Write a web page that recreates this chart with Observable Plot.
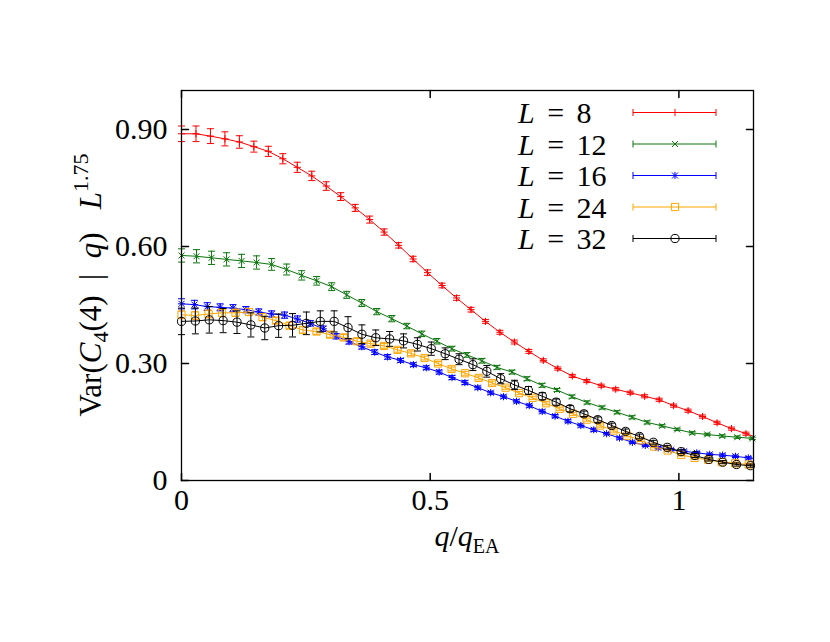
<!DOCTYPE html>
<html><head><meta charset="utf-8">
<script src="https://cdn.jsdelivr.net/npm/d3@7"></script>
<script src="https://cdn.jsdelivr.net/npm/@observablehq/plot@0.6"></script>
<style>
body{margin:0;background:#fff;}
#chart{position:relative;width:830px;height:642px;}
</style></head><body><div id="chart"></div>
<script>
// ---- data ----
const sizes = ["8", "12", "16", "24", "32"];
const colors = ["#ff0000", "#0b750b", "#0000ff", "#ffa500", "#000000"];
const qStep = [0.0291, 0.0302, 0.0259, 0.02715, 0.0279]; // spacing of q/qEA grid per L

const var8 = [0.889,0.889,0.883,0.876,0.868,0.856,0.844,0.825,0.803,0.781,
  0.755,0.728,0.699,0.669,0.637,0.603,0.568,0.533,0.500,0.468,
  0.438,0.408,0.380,0.355,0.331,0.308,0.287,0.268,0.255,0.243,
  0.234,0.225,0.216,0.207,0.192,0.179,0.164,0.148,0.133,0.120,0.107];
const err8 = [0.020,0.020,0.019,0.018,0.016,0.014,0.013,0.013,0.013,0.012,
  0.011,0.010,0.009,0.009,0.008,0.007,0.007,0.007,0.006,0.006,
  0.006,0.005,0.005,0.005,0.005,0.004,0.004,0.004,0.004,0.004,
  0.004,0.004,0.004,0.004,0.004,0.004,0.004,0.004,0.004,0.004,0.004];

const var12 = [0.577,0.575,0.571,0.567,0.563,0.559,0.554,0.541,0.526,0.512,
  0.497,0.476,0.455,0.433,0.415,0.396,0.376,0.357,0.338,0.322,
  0.307,0.290,0.278,0.261,0.244,0.232,0.215,0.200,0.187,0.175,
  0.162,0.149,0.140,0.131,0.122,0.118,0.114,0.111,0.108];
const err12 = [0.017,0.017,0.017,0.017,0.017,0.017,0.015,0.014,0.012,0.011,
  0.010,0.009,0.009,0.008,0.008,0.007,0.007,0.007,0.006,0.006,
  0.006,0.005,0.005,0.005,0.005,0.004,0.004,0.004,0.004,0.004,
  0.004,0.004,0.003,0.003,0.003,0.003,0.003,0.003,0.003];

const var16 = [0.453,0.451,0.446,0.444,0.442,0.438,0.432,0.427,0.424,0.414,
  0.403,0.389,0.370,0.356,0.343,0.329,0.317,0.308,0.297,0.289,
  0.278,0.264,0.251,0.238,0.225,0.215,0.203,0.192,0.177,0.165,
  0.152,0.141,0.130,0.120,0.109,0.098,0.090,0.084,0.079,0.075,
  0.071,0.067,0.065,0.062,0.058,0.055];
const err16 = [0.013,0.011,0.010,0.009,0.009,0.008,0.008,0.008,0.008,0.008,
  0.007,0.007,0.007,0.006,0.006,0.006,0.006,0.005,0.005,0.005,
  0.005,0.005,0.005,0.004,0.004,0.004,0.004,0.004,0.004,0.004,
  0.004,0.004,0.004,0.003,0.003,0.003,0.003,0.003,0.003,0.003,
  0.003,0.003,0.003,0.003,0.003,0.003];

const var24 = [0.425,0.423,0.427,0.430,0.430,0.432,0.419,0.410,0.397,0.386,
  0.382,0.374,0.367,0.357,0.351,0.345,0.335,0.326,0.314,0.300,
  0.286,0.275,0.263,0.250,0.238,0.224,0.212,0.198,0.184,0.171,
  0.156,0.141,0.128,0.115,0.103,0.087,0.077,0.066,0.058,0.053,
  0.047,0.044,0.041,0.039];
const err24 = [0.010,0.010,0.010,0.010,0.009,0.009,0.009,0.008,0.008,0.008,
  0.007,0.007,0.007,0.007,0.006,0.006,0.006,0.006,0.005,0.005,
  0.005,0.005,0.005,0.005,0.004,0.004,0.004,0.004,0.004,0.004,
  0.004,0.004,0.004,0.003,0.003,0.003,0.003,0.003,0.003,0.003,
  0.003,0.003,0.003,0.003];

const var32 = [0.408,0.409,0.412,0.410,0.406,0.399,0.391,0.397,0.398,0.403,
  0.408,0.408,0.392,0.375,0.366,0.363,0.358,0.349,0.338,0.325,
  0.311,0.297,0.280,0.261,0.245,0.231,0.216,0.201,0.184,0.171,
  0.156,0.141,0.126,0.113,0.098,0.085,0.074,0.064,0.054,0.047,
  0.041,0.038,0.036];
const err32 = [0.034,0.033,0.034,0.031,0.029,0.031,0.030,0.030,0.030,0.029,
  0.027,0.027,0.028,0.024,0.020,0.019,0.018,0.017,0.017,0.015,
  0.014,0.015,0.015,0.013,0.012,0.010,0.009,0.008,0.008,0.007,
  0.007,0.006,0.006,0.006,0.005,0.005,0.005,0.005,0.004,0.004,
  0.004,0.004,0.004];

const xTicks = [0, 0.5, 1];
const xTickLabels = ["0", "0.5", "1"];
const yTicks = [0, 0.3, 0.6, 0.9];
const yTickLabels = ["0", "0.30", "0.60", "0.90"];
const xMax = 1.15;

// ---- symbols (gnuplot point types) ----
const symPlus = {draw(c){c.moveTo(-3.6,0);c.lineTo(3.6,0);c.moveTo(0,-3.6);c.lineTo(0,3.6);}};
const symTimes = {draw(c){c.moveTo(-3,-3);c.lineTo(3,3);c.moveTo(-3,3);c.lineTo(3,-3);}};
const symStar = {draw(c){symPlus.draw(c);symTimes.draw(c);}};
const symSquare = {draw(c){c.rect(-3.6,-3.6,7.2,7.2);}};
const symCircle = {draw(c){c.moveTo(4.1,0);c.arc(0,0,4.1,0,2*Math.PI);}};
const symCap = {draw(c){c.moveTo(-3.5,0);c.lineTo(3.5,0);}};
const symbols = [symPlus, symTimes, symStar, symSquare, symCircle];

const values = [var8, var12, var16, var24, var32];
const errors = [err8, err12, err16, err24, err32];

const series = sizes.map((L, k) => values[k].map((v, i) => ({
  L, q: i * qStep[k], v, lo: v - errors[k][i], hi: v + errors[k][i]
})));

const tickShape = {draw(c, l){c.moveTo(0,0);c.lineTo(0,-l);}};

const marks = [];
series.forEach((rows, k) => {
  const col = colors[k];
  const inside = rows.filter(d => d.q <= xMax);
  marks.push(
    Plot.line(rows, {x: "q", y: "v", stroke: col, strokeWidth: 1, clip: true}),
    Plot.ruleX(inside, {x: "q", y1: "lo", y2: "hi", stroke: col, strokeWidth: 1}),
    Plot.dot(inside, {x: "q", y: "lo", symbol: symCap, fill: "none", stroke: col, strokeWidth: 1}),
    Plot.dot(inside, {x: "q", y: "hi", symbol: symCap, fill: "none", stroke: col, strokeWidth: 1}),
    Plot.dot(inside, {x: "q", y: "v", symbol: symbols[k], fill: "none", stroke: col, strokeWidth: 1})
  );
});

const svg = Plot.plot({
  width: 830, height: 642,
  marginLeft: 181, marginRight: 77, marginTop: 90, marginBottom: 162,
  x: {domain: [0, xMax], label: null},
  y: {domain: [0, 1], label: null},
  style: {fontFamily: "'Liberation Serif', 'Times New Roman', serif", fontSize: "30px", background: "white", color: "black", overflow: "visible"},
  marks: [
    ...marks,
    Plot.vector(xTicks, {x: d => d, frameAnchor: "bottom", rotate: 0, length: 7, anchor: "start", shape: tickShape, stroke: "black"}),
    Plot.vector(xTicks, {x: d => d, frameAnchor: "top", rotate: 180, length: 7, anchor: "start", shape: tickShape, stroke: "black"}),
    Plot.vector(yTicks, {y: d => d, frameAnchor: "left", rotate: 90, length: 7, anchor: "start", shape: tickShape, stroke: "black"}),
    Plot.vector(yTicks, {y: d => d, frameAnchor: "right", rotate: -90, length: 7, anchor: "start", shape: tickShape, stroke: "black"}),
    Plot.axisX(xTicks, {anchor: "bottom", tickSize: 0, tickPadding: 8, label: null, tickFormat: d => xTickLabels[xTicks.indexOf(d)]}),
    Plot.axisY(yTicks, {anchor: "left", tickSize: 0, tickPadding: 14, label: null, tickFormat: d => yTickLabels[yTicks.indexOf(d)]}),
    Plot.frame({stroke: "black", strokeWidth: 1.3})
  ]
});
document.getElementById("chart").appendChild(svg);

// ---- axis titles and legend (rich text) ----
const S = d3.select(svg);
const yl = S.append("text").attr("transform", "translate(101,285) rotate(-90)")
  .attr("text-anchor", "middle").attr("fill", "black").style("font-size", "31px");
yl.append("tspan").text("Var(");
yl.append("tspan").attr("font-style", "italic").text("C");
yl.append("tspan").attr("font-size", "22px").attr("dy", 7).text("4");
yl.append("tspan").attr("dy", -7).text("(4)\u2002|\u2002");
yl.append("tspan").attr("font-style", "italic").text("q");
yl.append("tspan").text(")\u00a0\u00a0\u00a0");
yl.append("tspan").attr("font-style", "italic").text("L");
yl.append("tspan").attr("font-size", "22px").attr("dy", -13).text("1.75");

const xl = S.append("text").attr("x", 467).attr("y", 546)
  .attr("text-anchor", "middle").attr("fill", "black").style("font-size", "30px");
xl.append("tspan").attr("font-style", "italic").text("q");
xl.append("tspan").text("/");
xl.append("tspan").attr("font-style", "italic").text("q");
xl.append("tspan").attr("font-size", "20px").attr("dy", 7).text("EA");

const lg = S.append("g");
sizes.forEach((L, k) => {
  const cy = 112.5 + 31.5 * k;
  const col = colors[k];
  const t = lg.append("text").attr("x", 518).attr("y", cy).attr("dy", "0.36em")
    .attr("text-anchor", "start")
    .attr("fill", "black").style("font-size", "30px").style("word-spacing", "5px");
  t.append("tspan").attr("font-style", "italic").text("L");
  t.append("tspan").text(" = " + L);
  const x0 = 633, x1 = 716;
  lg.append("line").attr("x1", x0).attr("x2", x1).attr("y1", cy).attr("y2", cy).attr("stroke", col);
  [x0, x1].forEach(x => lg.append("line").attr("x1", x).attr("x2", x).attr("y1", cy - 3.5).attr("y2", cy + 3.5).attr("stroke", col));
  const p = d3.path(); symbols[k].draw(p);
  lg.append("path").attr("d", p.toString()).attr("transform", `translate(675,${cy})`)
    .attr("fill", "none").attr("stroke", col);
});
</script></body></html>
